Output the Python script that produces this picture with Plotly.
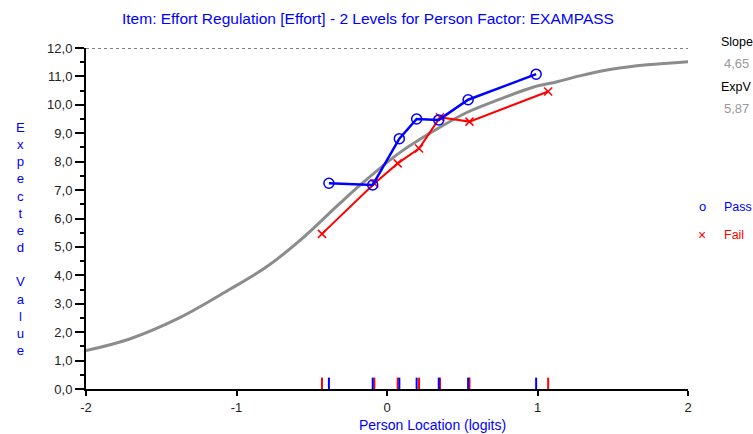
import plotly.graph_objects as go

# Data
pass_x = [-0.386, -0.095, 0.082, 0.197, 0.344, 0.539, 0.991]
pass_y = [7.24, 7.18, 8.81, 9.50, 9.47, 10.18, 11.08]
fail_x = [-0.432, -0.084, 0.071, 0.213, 0.352, 0.548, 1.071]
fail_y = [5.46, 7.23, 7.94, 8.46, 9.56, 9.41, 10.47]
curve_x = [-2.0, -1.71, -1.38, -1.05, -0.80, -0.58, -0.31, -0.16, 0.08, 0.31,
           0.53, 0.75, 0.97, 1.13, 1.28, 1.50, 1.73, 2.0]
curve_y = [1.35, 1.76, 2.50, 3.49, 4.30, 5.22, 6.55, 7.26, 8.30, 9.08,
           9.73, 10.20, 10.62, 10.81, 11.02, 11.26, 11.41, 11.52]
y_ticks = [0, 1, 2, 3, 4, 5, 6, 7, 8, 9, 10, 11, 12]
y_tick_text = [f"{v},0" for v in y_ticks]
x_ticks = [-2, -1, 0, 1, 2]
x_tick_text = ["-2", "-1", "0", "1", "2"]
max_score = 12
slope_text = "4,65"
expv_text = "5,87"
title_text = "Item: Effort Regulation [Effort] - 2 Levels for Person Factor: EXAMPASS"

FONT = "Liberation Sans, Arial, sans-serif"
BLUE = "#0000ff"
RED = "#ff0000"

fig = go.Figure()

# Model curve
fig.add_trace(go.Scatter(x=curve_x, y=curve_y, mode="lines",
                         line=dict(color="#8c8c8c", width=3, shape="spline"),
                         hoverinfo="skip"))

# Rug marks
def rug(xs):
    rx, ry = [], []
    for v in xs:
        rx += [v, v, None]
        ry += [0, 0.4, None]
    return rx, ry

rx, ry = rug(fail_x)
fig.add_trace(go.Scatter(x=rx, y=ry, mode="lines", line=dict(color=RED, width=2)))
rx, ry = rug(pass_x)
fig.add_trace(go.Scatter(x=rx, y=ry, mode="lines", line=dict(color=BLUE, width=2)))

# Fail
fig.add_trace(go.Scatter(x=fail_x, y=fail_y, mode="lines+markers",
                         line=dict(color=RED, width=2),
                         marker=dict(symbol="x-thin-open", size=8,
                                     line=dict(color=RED, width=1.5))))
# Pass
fig.add_trace(go.Scatter(x=pass_x, y=pass_y, mode="lines+markers",
                         line=dict(color=BLUE, width=2.5),
                         marker=dict(symbol="circle-open", size=10,
                                     line=dict(color=BLUE, width=1.5))))

fig.add_shape(type="line", x0=-2, x1=2, y0=max_score, y1=max_score,
              xref="x", yref="y", line=dict(color="black", width=1, dash="3px,3px"))

fig.update_xaxes(range=[-2, 2], tickvals=x_ticks, ticktext=x_tick_text, automargin=False,
                 showgrid=False, zeroline=False, showline=True, linecolor="black",
                 linewidth=2, ticks="outside", ticklen=5, tickwidth=1.5,
                 tickcolor="black", tickfont=dict(family=FONT, size=13, color="#222"))
fig.update_yaxes(range=[0, 12], tickvals=y_ticks, ticktext=y_tick_text, automargin=False,
                 showgrid=False, zeroline=False, showline=True, linecolor="black",
                 linewidth=2, ticks="outside", ticklen=9, tickwidth=1.5,
                 tickcolor="black", tickfont=dict(family=FONT, size=13, color="#222"),
                 minor=dict(dtick=0.5, ticks="outside", ticklen=4, tickcolor="black",
                            tickwidth=1.5, showgrid=False))

ylabel = "<br>".join(list("Expected")) + "<br> <br>" + "<br>".join(list("Value"))

annotations = [
    dict(text=title_text, x=368, y=18, showarrow=False,
         font=dict(family=FONT, size=15.5, color=BLUE)),
    dict(text="Person Location (logits)", x=432, y=425, showarrow=False,
         font=dict(family=FONT, size=14, color=BLUE)),
    dict(text=ylabel, x=14, y=239, showarrow=False, font=dict(family=FONT, size=13.2, color=BLUE),
         align="center"),
    dict(text="Slope", x=719, y=42, xanchor="left", showarrow=False,
         font=dict(family=FONT, size=12.5, color="black")),
    dict(text=slope_text, x=751, y=64, xanchor="right", showarrow=False,
         font=dict(family=FONT, size=13, color="#999")),
    dict(text="ExpV", x=719, y=87, xanchor="left", showarrow=False,
         font=dict(family=FONT, size=12.5, color="black")),
    dict(text=expv_text, x=751, y=109, xanchor="right", showarrow=False,
         font=dict(family=FONT, size=13, color="#999")),
    dict(text="o", x=708, y=206, showarrow=False, font=dict(family=FONT, size=13, color=BLUE)),
    dict(text="Pass", x=722, y=207, xanchor="left", showarrow=False,
         font=dict(family=FONT, size=12.5, color=BLUE)),
    dict(text="×", x=708, y=235, showarrow=False, font=dict(family=FONT, size=14, color=RED)),
    dict(text="Fail", x=722, y=235, xanchor="left", showarrow=False,
         font=dict(family=FONT, size=12.5, color=RED)),
]
# convert pixel positions to paper coords
W, H = 753, 434
L, R, T, B = 86, 65, 48, 45
pw, ph = W - L - R, H - T - B
for a in annotations:
    a["xref"] = "paper"
    a["yref"] = "paper"
    a["x"] = (a["x"] - L) / pw
    a["y"] = (H - B - a["y"]) / ph
    a.setdefault("yanchor", "middle")

fig.update_layout(width=W, height=H, margin=dict(l=L, r=R, t=T, b=B),
                  plot_bgcolor="white", paper_bgcolor="white", showlegend=False,
                  annotations=annotations, font=dict(family=FONT))

fig.write_html("out.html")
